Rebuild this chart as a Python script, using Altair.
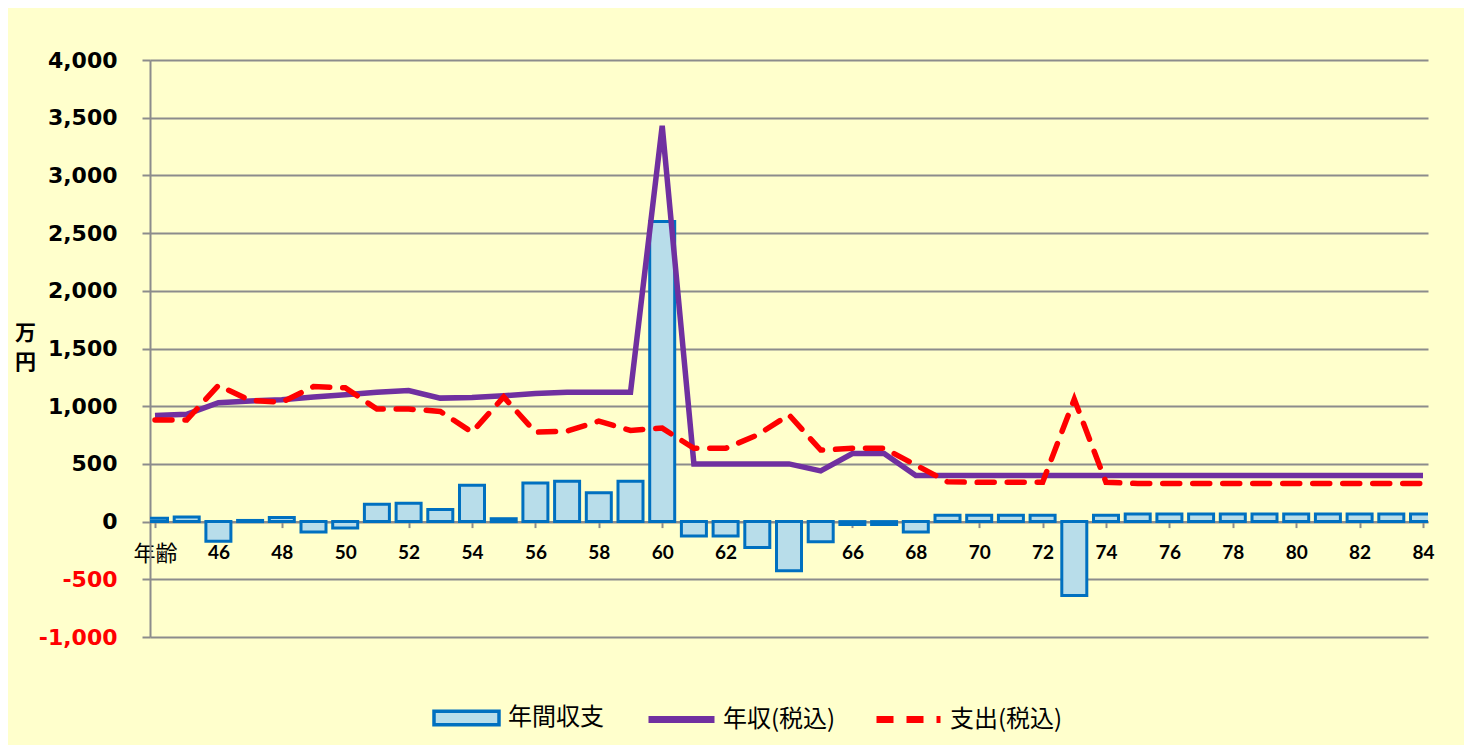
import altair as alt
import pandas as pd

# ---- data ----
ages = list(range(44, 85))
balance = [30, 40, -170, 10, 35, -90, -55, 150, 160, 105,
           315, 25, 335, 350, 250, 350, 2600, -125, -125, -225,
           -425, -175, -25, -25, -90, 55, 55, 55, 55, -640,
           55, 65, 65, 65, 65, 65, 65, 65, 65, 65, 65]
income = [920, 930, 1030, 1045, 1055, 1080, 1100, 1120, 1135, 1070,
          1075, 1090, 1110, 1120, 1120, 1120, 3430, 500, 500, 500,
          500, 440, 590, 590, 400, 400, 400, 400, 400, 400,
          400, 400, 400, 400, 400, 400, 400, 400, 400, 400, 400]
expense = [880, 880, 1180, 1050, 1035, 1170, 1160, 975, 975, 955,
           775, 1080, 775, 785, 870, 790, 810, 635, 635, 750,
           925, 620, 635, 635, 490, 345, 340, 340, 340, 1060,
           340, 330, 330, 330, 330, 330, 330, 330, 330, 330, 330]
series_names = ["年間収支", "年収(税込)", "支出(税込)"]
y_ticks = list(range(-1000, 4001, 500))
x_ticks = list(range(44, 85, 2))

df = pd.DataFrame({
    "age": ages,
    "balance": balance,
    "income": income,
    "expense": expense,
    "s_bal": series_names[0],
    "s_inc": series_names[1],
    "s_exp": series_names[2],
})

GRAY = "#8c8c8c"
W, H = 1278, 577

x_axis = alt.Axis(
    values=x_ticks,
    labelExpr="datum.value == 44 ? '年齢' : datum.label",
    offset=-115.4,
    grid=False,
    domainColor=GRAY, domainWidth=2,
    tickColor=GRAY, tickWidth=2, tickSize=6,
    labelFont={"condition": {"test": "datum.value == 44", "value": "Noto Sans CJK JP"}, "value": "Lato"},
    labelFontWeight={"condition": {"test": "datum.value == 44", "value": "normal"}, "value": "bold"},
    labelFontSize={"condition": {"test": "datum.value == 44", "value": 22}, "value": 19},
    labelColor="#000000",
    labelPadding=16,
    labelFlush=False,
    labelOverlap=False,
    labelBound=False,
    title=None,
)

y_axis = alt.Axis(
    values=y_ticks,
    labelExpr="datum.value < 0 ? '-' + format(-datum.value, ',') : format(datum.value, ',')",
    labelFont="DejaVu Sans", labelFontWeight="bold", labelFontSize=22,
    labelColor={"condition": {"test": "datum.value < 0", "value": "#FF0000"}, "value": "#000000"},
    labelPadding=25,
    domainColor=GRAY, domainWidth=2,
    tickColor=GRAY, tickWidth=2, tickSize=8,
    grid=True, gridColor=GRAY, gridWidth=2,
    title=["万", "円"],
    titleAngle=0,
    titleFont="Noto Sans CJK JP", titleFontWeight="bold", titleFontSize=21,
    titleColor="#000000",
    titleAlign="center", titleBaseline="top",
    titleX=-125, titleY=262, titleLineHeight=29,
)

x_enc = alt.X("age:Q", scale=alt.Scale(domain=[44, 84], nice=False, zero=False), axis=x_axis)
y_scale = alt.Scale(domain=[-1000, 4000], nice=False)

legend_common = dict(
    orient="none", title=None, padding=0,
    labelFont="Noto Sans CJK JP", labelFontSize=24, labelColor="#000000",
)

bars = alt.Chart(df).mark_bar(
    size=25, stroke="#0070C0", strokeWidth=3, clip=True
).encode(
    x=x_enc,
    y=alt.Y("balance:Q", scale=y_scale, axis=y_axis),
    fill=alt.Fill("s_bal:N", scale=alt.Scale(domain=[series_names[0]], range=["#B8DDEA"]),
                  legend=alt.Legend(
                      legendX=282, legendY=623.5,
                      symbolType="M-1,-0.21H1V0.21H-1Z", symbolSize=4225,
                      symbolStrokeColor="#0070C0", symbolStrokeWidth=3.5,
                      labelOffset=7, **legend_common)),
)

inc_line = alt.Chart(df).mark_line(
    strokeWidth=5.5, strokeJoin="miter", strokeCap="butt"
).encode(
    x=x_enc,
    y=alt.Y("income:Q", scale=y_scale, axis=y_axis),
    stroke=alt.Stroke("s_inc:N", scale=alt.Scale(domain=[series_names[1]], range=["#7030A0"]),
                      legend=alt.Legend(
                          legendX=495, legendY=623,
                          symbolType="stroke", symbolSize=4356,
                          symbolStrokeWidth=7,
                          labelOffset=5, **legend_common)),
)

exp_line = alt.Chart(df).mark_line(
    strokeWidth=5.5, strokeDash=[17, 13], strokeCap="round"
).encode(
    x=x_enc,
    y=alt.Y("expense:Q", scale=y_scale, axis=y_axis),
    stroke=alt.Stroke("s_exp:N", scale=alt.Scale(domain=[series_names[2]], range=["#FF0000"]),
                      legend=alt.Legend(
                          legendX=723, legendY=624,
                          symbolType="stroke", symbolSize=4096,
                          symbolStrokeWidth=7, symbolDash=[17, 13],
                          labelOffset=6, **legend_common)),
)

chart = alt.layer(bars, inc_line, exp_line).resolve_scale(
    stroke="independent", fill="independent"
).properties(
    width=W, height=H,
    autosize=alt.AutoSizeParams(type="none"),
    padding={"left": 142, "top": 52, "right": 36, "bottom": 108},
    background="#FFFFCC",
).configure_view(stroke="transparent")

chart.save("out.html", embed_options={"renderer": "svg", "actions": False})
